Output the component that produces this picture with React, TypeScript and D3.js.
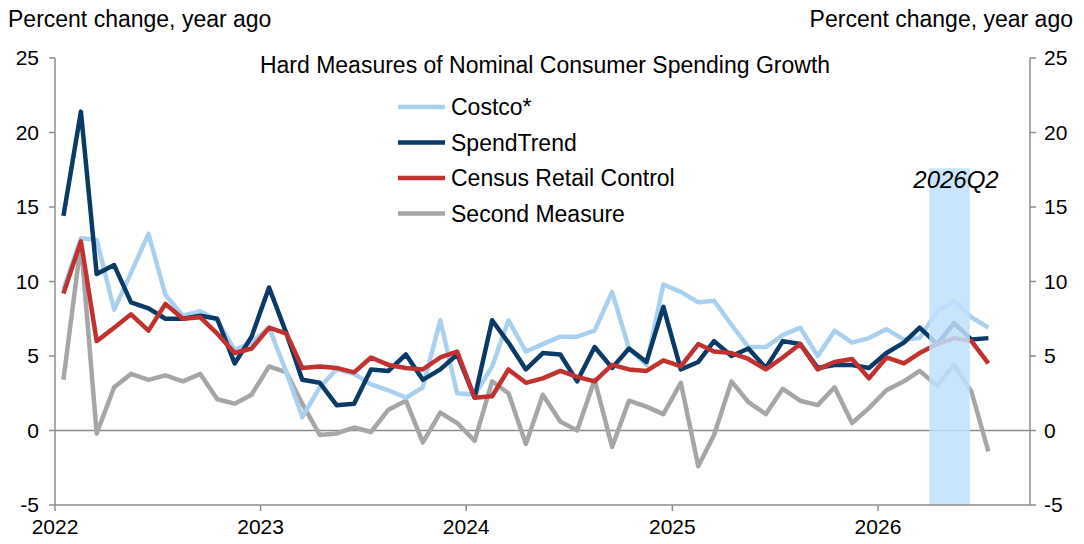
import * as d3 from "d3";

const startYear = 2022;
const costco = [9.5, 12.9, 12.8, 8.1, 10.6, 13.2, 9.1, 7.7, 8.0, 7.4, 5.4, 5.9, 6.9, 3.9, 0.9, 2.9, 4.1, 3.8, 3.1, 2.7, 2.2, 2.9, 7.4, 2.5, 2.4, 4.3, 7.4, 5.3, 5.8, 6.3, 6.3, 6.7, 9.3, 5.5, 4.4, 9.8, 9.3, 8.6, 8.7, 7.1, 5.6, 5.6, 6.4, 6.9, 5.0, 6.7, 5.9, 6.2, 6.8, 6.1, 6.2, 8.0, 8.7, 7.6, 6.9];
const spendTrend = [14.4, 21.4, 10.5, 11.1, 8.6, 8.2, 7.5, 7.5, 7.7, 7.5, 4.5, 6.3, 9.6, 6.5, 3.4, 3.2, 1.7, 1.8, 4.1, 4.0, 5.1, 3.4, 4.1, 5.1, 2.2, 7.4, 5.9, 4.1, 5.2, 5.1, 3.3, 5.6, 4.2, 5.5, 4.6, 8.3, 4.1, 4.6, 6.0, 5.0, 5.5, 4.2, 6.0, 5.8, 4.2, 4.4, 4.4, 4.2, 5.2, 5.9, 6.9, 5.8, 7.2, 6.1, 6.2];
const census = [9.2, 12.7, 6.0, 6.9, 7.8, 6.7, 8.5, 7.5, 7.6, 6.5, 5.2, 5.5, 6.9, 6.5, 4.2, 4.3, 4.2, 3.9, 4.9, 4.4, 4.2, 4.1, 4.9, 5.3, 2.2, 2.3, 4.1, 3.2, 3.5, 4.0, 3.6, 3.3, 4.4, 4.1, 4.0, 4.7, 4.3, 5.8, 5.3, 5.2, 4.8, 4.1, 4.9, 5.8, 4.1, 4.6, 4.8, 3.5, 4.9, 4.5, 5.2, 5.8, 6.2, 6.0, 4.5];
const secondMeasure = [3.4, 12.6, -0.2, 2.9, 3.8, 3.4, 3.7, 3.3, 3.8, 2.1, 1.8, 2.4, 4.3, 3.9, 1.8, -0.3, -0.2, 0.2, -0.1, 1.4, 2.0, -0.8, 1.2, 0.5, -0.7, 3.3, 2.5, -0.9, 2.4, 0.6, 0.0, 3.4, -1.1, 2.0, 1.6, 1.1, 3.2, -2.4, -0.3, 3.3, 1.9, 1.1, 2.8, 2.0, 1.7, 2.9, 0.5, 1.5, 2.7, 3.3, 4.0, 3.0, 4.4, 2.6, -1.4];
const yTicks = [-5, 0, 5, 10, 15, 20, 25];
const yearTicks = [2022, 2023, 2024, 2025, 2026];

const series = [
  { name: "Costco*", values: costco, color: "#a9d1ef" },
  { name: "SpendTrend", values: spendTrend, color: "#0b3a66" },
  { name: "Census Retail Control", values: census, color: "#c1312f" },
  { name: "Second Measure", values: secondMeasure, color: "#a6a6a6" },
];
const drawOrder = [series[3], series[0], series[1], series[2]];

const W = 1084, H = 544;
const left = 55, right = 1030, top = 58, bottom = 505;
const font = "'Liberation Sans', Arial, sans-serif";

export default function App() {
  const x = d3.scaleTime()
    .domain([new Date(2022, 0, 1), new Date(2026, 11, 31)])
    .range([left, left + 205.6 * 5]);
  const y = d3.scaleLinear().domain([-5, 25]).range([bottom, top]);
  const dateOf = (i: number) => new Date(startYear, i, 16);
  const line = (vals: number[]) =>
    d3.line<number>().x((_, i) => x(dateOf(i))).y((v) => y(v))(vals) || "";

  return (
    <svg width={W} height={H} style={{ position: "absolute", left: 0, top: 0 }} fontFamily={font}>
      <rect width={W} height={H} fill="#fff" />
      <text x={8} y={27} fontSize={23}>Percent change, year ago</text>
      <text x={1073} y={27} fontSize={23} textAnchor="end">Percent change, year ago</text>
      <text x={545} y={73} fontSize={23} textAnchor="middle">Hard Measures of Nominal Consumer Spending Growth</text>

      <line x1={left} x2={right} y1={y(0)} y2={y(0)} stroke="#8c8c8c" strokeWidth={1.5} />
      {drawOrder.map((s) => (
        <path key={s.name} d={line(s.values)} fill="none" stroke={s.color} strokeWidth={4.5} strokeLinejoin="round" />
      ))}
      <rect x={x(new Date(2026, 3, 2))} width={x(new Date(2026, 5, 13)) - x(new Date(2026, 3, 2))}
        y={y(17.6)} height={bottom - y(17.6)} fill="#bfe0fb" opacity={0.85} />
      <text x={956} y={188} fontSize={24} fontStyle="italic" textAnchor="middle">2026Q2</text>

      {/* axes */}
      <line x1={left} x2={left} y1={top} y2={bottom} stroke="#8c8c8c" strokeWidth={1.5} />
      <line x1={right} x2={right} y1={top} y2={bottom} stroke="#8c8c8c" strokeWidth={1.5} />
      <line x1={left} x2={right} y1={bottom} y2={bottom} stroke="#8c8c8c" strokeWidth={1.5} />
      {yTicks.map((t) => (
        <g key={t}>
          <line x1={left - 6} x2={left} y1={y(t)} y2={y(t)} stroke="#8c8c8c" strokeWidth={1.5} />
          <line x1={right} x2={right + 6} y1={y(t)} y2={y(t)} stroke="#8c8c8c" strokeWidth={1.5} />
          <text x={39} y={y(t) + 7} fontSize={21} textAnchor="end">{t}</text>
          <text x={1044} y={y(t) + 7} fontSize={21}>{t}</text>
        </g>
      ))}
      {yearTicks.map((yr) => (
        <g key={yr}>
          <line x1={x(new Date(yr, 0, 1))} x2={x(new Date(yr, 0, 1))} y1={bottom} y2={bottom + 6} stroke="#8c8c8c" strokeWidth={1.5} />
          <text x={x(new Date(yr, 0, 1))} y={bottom + 29} fontSize={21} textAnchor="middle">{yr}</text>
        </g>
      ))}

      {series.map((s, i) => (
        <g key={s.name} transform={`translate(398, ${107 + i * 35.5})`}>
          <line x1={0} x2={47} y1={0} y2={0} stroke={s.color} strokeWidth={4.5} />
          <text x={53} y={8} fontSize={23}>{s.name}</text>
        </g>
      ))}
    </svg>
  );
}
